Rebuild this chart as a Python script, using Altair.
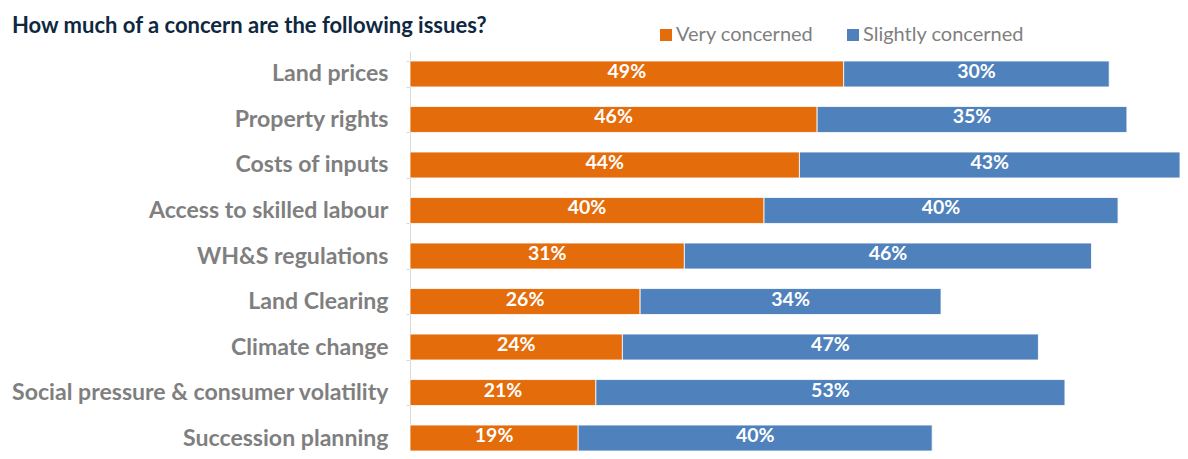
import altair as alt
import pandas as pd

categories = [
    "Land prices",
    "Property rights",
    "Costs of inputs",
    "Access to skilled labour",
    "WH&S regulations",
    "Land Clearing",
    "Climate change",
    "Social pressure & consumer volatility",
    "Succession planning",
]
very_concerned = [49, 46, 44, 40, 31, 26, 24, 21, 19]
slightly_concerned = [30, 35, 43, 40, 46, 34, 47, 53, 40]
series_names = ["Very concerned", "Slightly concerned"]
series_colors = ["#E46C0A", "#4F81BD"]

rows = []
for cat, v, s in zip(categories, very_concerned, slightly_concerned):
    rows.append({"cat": cat, "series": series_names[0], "start": 0, "end": v,
                 "mid": v / 2, "label": f"{v}%"})
    rows.append({"cat": cat, "series": series_names[1], "start": v, "end": v + s,
                 "mid": v + s / 2, "label": f"{s}%"})
df = pd.DataFrame(rows)

FONT = "Lato"

y_enc = alt.Y(
    "cat:N",
    sort=categories,
    title=None,
    scale=alt.Scale(paddingInner=0.43, paddingOuter=0.11, align=1),
    axis=alt.Axis(
        labelFont=FONT,
        labelFontSize=23.1,
        labelFontWeight="bold",
        labelColor="#7F7F7F",
        labelPadding=18,
        labelLimit=600,
        tickSize=4,
        tickColor="#D9D9D9",
        domainColor="#D9D9D9",
        tickBand="extent",
        grid=False,
    ),
)
x_scale = alt.Scale(domain=[0, 87], nice=False, zero=True)

bars = alt.Chart(df).mark_bar(stroke="white", strokeWidth=0.8).encode(
    y=y_enc,
    x=alt.X("start:Q", scale=x_scale, axis=None),
    x2="end:Q",
    color=alt.Color(
        "series:N",
        scale=alt.Scale(domain=series_names, range=series_colors),
        sort=series_names,
        legend=alt.Legend(
            title=None,
            orient="none",
            direction="horizontal",
            legendX=246,
            legendY=-26,
            symbolType="square",
            symbolSize=144,
            symbolStrokeWidth=0,
            labelFont=FONT,
            labelFontSize=20,
            labelColor="#7F7F7F",
            labelOffset=0,
            labelLimit=400,
            columnPadding=29,
        ),
    ),
)

labels = alt.Chart(df).mark_text(
    font=FONT, fontSize=19.5, fontWeight="bold", color="white", dy=-2
).encode(
    y=alt.Y("cat:N", sort=categories),
    x=alt.X("mid:Q", scale=x_scale),
    text="label:N",
)

chart = alt.layer(bars, labels).properties(
    width=770,
    height=400,
    autosize=alt.AutoSizeParams(type="none"),
    padding={"left": 402, "top": 43, "right": 0, "bottom": 0},
    title=alt.TitleParams(
        "How much of a concern are the following issues?",
        anchor="start",
        frame="group",
        font=FONT,
        fontSize=22,
        fontWeight="bold",
        color="#0E2841",
        baseline="alphabetic",
        dx=-398,
        offset=0,
        dy=30,
    ),
).configure_view(stroke=None)

chart.save("out.html", embed_options={"renderer": "svg", "actions": False})
